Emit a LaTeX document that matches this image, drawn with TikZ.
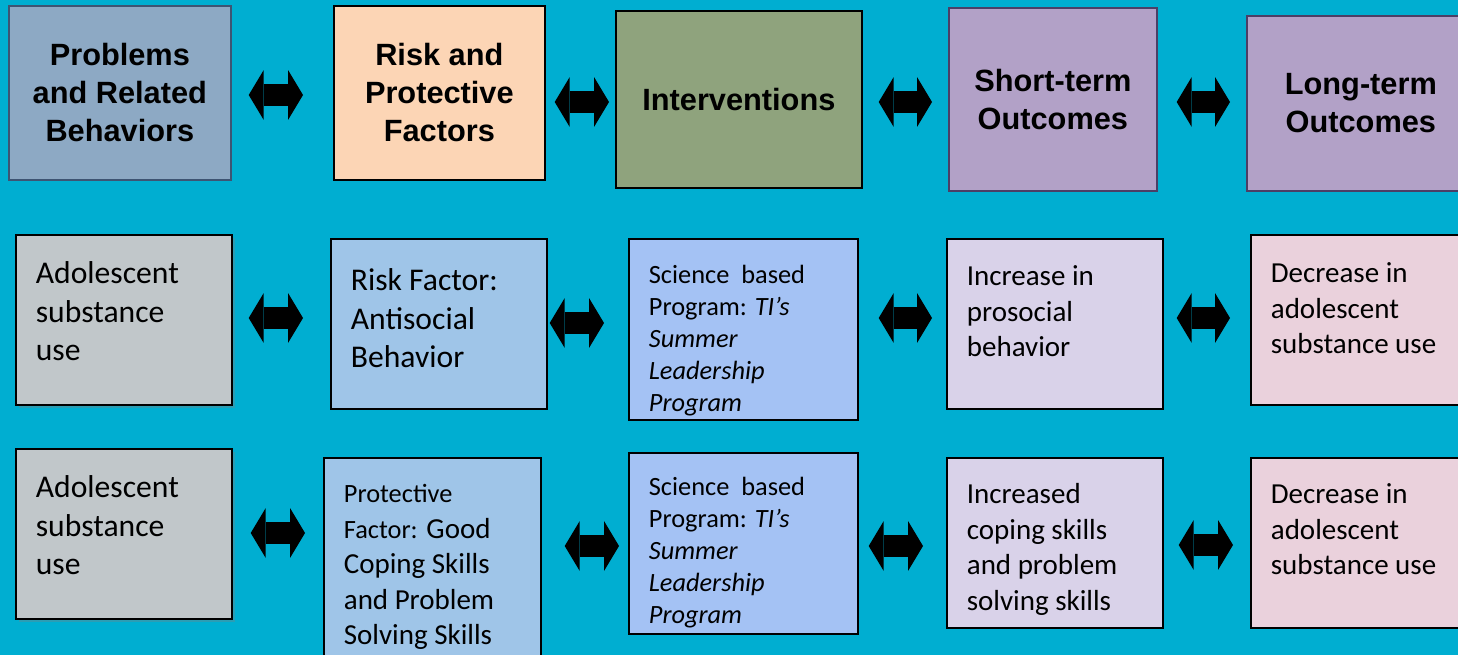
\documentclass[tikz,border=0pt]{standalone}
\usepackage{fontspec}
\setmainfont{Carlito}
\newfontfamily\headfont{Liberation Sans}
\usetikzlibrary{arrows.meta,shadows}

\definecolor{bgblue}{HTML}{00AED1}
\definecolor{probfill}{HTML}{8DA9C4}
\definecolor{probline}{HTML}{3E5473}
\definecolor{riskfill}{HTML}{FCD5B5}
\definecolor{intfill}{HTML}{8FA37D}
\definecolor{outfill}{HTML}{B2A1C7}
\definecolor{outline}{HTML}{4B3F66}
\definecolor{greycell}{HTML}{C1C7CA}
\definecolor{riskcell}{HTML}{9FC5E8}
\definecolor{progcell}{HTML}{A4C2F4}
\definecolor{shortcell}{HTML}{D9D2E9}
\definecolor{longcell}{HTML}{EAD1DC}

\newcommand{\cellbody}[4]{\begin{minipage}[c][#2][t]{#1}\raggedright\rule{0pt}{#3}#4\end{minipage}}

\begin{document}
\begin{tikzpicture}[x=0.02cm,y=-0.02cm,
  head/.style={draw=black, line width=1pt, anchor=north west, align=center, font=\headfont\bfseries\fontsize{17.5pt}{21.6pt}\selectfont},
  cell/.style={draw=black, line width=1pt, anchor=north west, inner xsep=0.4cm, inner ysep=0pt},
  big/.style={font=\fontsize{18pt}{21.9pt}\selectfont},
  mid/.style={font=\fontsize{16.5pt}{20.2pt}\selectfont},
  small/.style={font=\fontsize{15pt}{18.2pt}\selectfont},
  shade/.style={drop shadow={shadow xshift=2pt, shadow yshift=-2pt, opacity=0.35}},
  dblarrow/.style={line width=0.44cm, >={Triangle[length=0.3cm,width=1cm,line width=0pt]}, <->},]
\useasboundingbox (0,0) rectangle (1458,655);
\fill[bgblue] (0,0) rectangle (1458,655);
\clip (0,0) rectangle (1458,655);

\node (B1) at (8,5)[head, draw=probline, fill=probfill, minimum width=4.44cm, minimum height=3.48cm] {Problems\\and Related\\Behaviors};
\node (B2) at (333,5)[head, fill=riskfill, minimum width=4.22cm, minimum height=3.48cm] {Risk and\\Protective\\Factors};
\node (B3) at (615,10)[head, fill=intfill, minimum width=4.92cm, minimum height=3.54cm] {Interventions};
\node (B4) at (948,7)[head, draw=outline, fill=outfill, minimum width=4.16cm, minimum height=3.66cm] {Short-term\\Outcomes};
\node (B5) at (1246,15)[head, draw=outline, fill=outfill, minimum width=4.56cm, minimum height=3.5cm] {Long-term\\Outcomes};

\node (C1) at (15,234)[cell, big, shade, fill=greycell] {\cellbody{3.52cm}{3.4cm}{0.98cm}{Adolescent\\substance\\use}};
\node (C2) at (330,238)[cell, big, fill=riskcell] {\cellbody{3.52cm}{3.4cm}{1.04cm}{Risk Factor:\\Antisocial\\Behavior}};
\node (C3) at (628,238)[cell, small, fill=progcell] {\cellbody{3.78cm}{3.62cm}{0.9cm}{Science~ based\\Program: \textit{TI’s}\\\textit{Summer}\\\textit{Leadership}\\\textit{Program}}};
\node (C4) at (946,238)[cell, mid, fill=shortcell] {\cellbody{3.52cm}{3.4cm}{0.94cm}{Increase in\\prosocial\\behavior}};
\node (C5) at (1250,234)[cell, mid, fill=longcell] {\cellbody{3.52cm}{3.4cm}{0.96cm}{Decrease in\\adolescent\\substance use}};

\node (D1) at (15,448)[cell, big, shade, fill=greycell] {\cellbody{3.52cm}{3.4cm}{0.98cm}{Adolescent\\substance\\use}};
\node (D2) at (323,457)[cell, mid, fill=riskcell] {\cellbody{3.54cm}{4.16cm}{0.9cm}{{\fontsize{15pt}{18pt}\selectfont Protective\\Factor:} Good\\Coping Skills\\and Problem\\Solving Skills}};
\node (D3) at (628,452)[cell, small, fill=progcell] {\cellbody{3.78cm}{3.62cm}{0.86cm}{Science~ based\\Program: \textit{TI’s}\\\textit{Summer}\\\textit{Leadership}\\\textit{Program}}};
\node (D4) at (946,457)[cell, mid, fill=shortcell] {\cellbody{3.52cm}{3.4cm}{0.92cm}{Increased\\coping skills\\and problem\\solving skills}};
\node (D5) at (1250,457)[cell, mid, fill=longcell] {\cellbody{3.52cm}{3.4cm}{0.92cm}{Decrease in\\adolescent\\substance use}};

\draw[dblarrow, shorten <=0.34cm, shorten >=0.6cm] (B1.east |- 0,95) -- (B2.west |- 0,95);
\draw[dblarrow, shorten <=0.18cm, shorten >=0.12cm] (B2.east |- 0,102) -- (B3.west |- 0,102);
\draw[dblarrow, shorten <=0.32cm, shorten >=0.32cm] (B3.east |- 0,102) -- (B4.west |- 0,102);
\draw[dblarrow, shorten <=0.38cm, shorten >=0.32cm] (B4.east |- 0,102) -- (B5.west |- 0,102);
\draw[dblarrow, shorten <=0.32cm, shorten >=0.54cm] (C1.east |- 0,318) -- (C2.west |- 0,318);
\draw[dblarrow, shorten <=0.04cm, shorten >=0.48cm] (C2.east |- 0,323) -- (C3.west |- 0,323);
\draw[dblarrow, shorten <=0.4cm, shorten >=0.28cm] (C3.east |- 0,318) -- (C4.west |- 0,318);
\draw[dblarrow, shorten <=0.26cm, shorten >=0.4cm] (C4.east |- 0,318) -- (C5.west |- 0,318);
\draw[dblarrow, shorten <=0.36cm, shorten >=0.36cm] (D1.east |- 0,533) -- (D2.west |- 0,533);
\draw[dblarrow, shorten <=0.46cm, shorten >=0.18cm] (D2.east |- 0,546) -- (D3.west |- 0,546);
\draw[dblarrow, shorten <=0.2cm, shorten >=0.46cm] (D3.east |- 0,546) -- (D4.west |- 0,546);
\draw[dblarrow, shorten <=0.3cm, shorten >=0.34cm] (D4.east |- 0,545) -- (D5.west |- 0,545);
\end{tikzpicture}
\end{document}
